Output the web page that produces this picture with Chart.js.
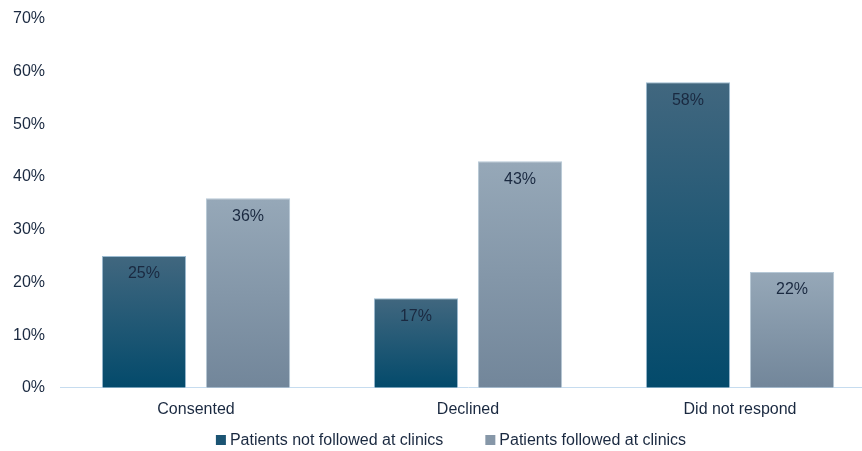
<!DOCTYPE html>
<html>
<head>
<meta charset="utf-8">
<script src="https://cdn.jsdelivr.net/npm/chart.js@4/dist/chart.umd.min.js"></script>
<style>
  html, body { margin: 0; padding: 0; overflow: hidden; background: #fff; }
  #wrap { width: 902px; height: 451px; }
</style>
</head>
<body>
<div id="wrap"><canvas id="chart" width="902" height="451"></canvas></div>
<script>
// Data
const categories = ['Consented', 'Declined', 'Did not respond'];
const notFollowed = [25, 17, 58];
const followed = [36, 43, 22];
const seriesNames = ['Patients not followed at clinics', 'Patients followed at clinics'];

const FONT = 'Liberation Sans, Arial, sans-serif';
const TEXT = '#1a2940';
const legendColors = ['#1b5473', '#8697a8'];

// each bar gets its own top-to-bottom gradient
function barGradient(ctx, top, bottom) {
    const chart = ctx.chart;
    const area = chart.chartArea;
    if (!area || ctx.raw == null) return bottom;
    const yTop = chart.scales.y.getPixelForValue(ctx.raw);
    const g = chart.ctx.createLinearGradient(0, yTop, 0, area.bottom);
    g.addColorStop(0, top);
    g.addColorStop(1, bottom);
    return g;
}

// value labels inside top of each bar + custom legend
const extras = {
    id: 'extras',
    afterDatasetsDraw(chart) {
        const c = chart.ctx;
        c.save();
        c.font = '16px ' + FONT;
        c.fillStyle = TEXT;
        c.textAlign = 'center';
        c.textBaseline = 'middle';
        chart.data.datasets.forEach((ds, i) => {
            chart.getDatasetMeta(i).data.forEach((bar, j) => {
                c.fillText(ds.data[j] + '%', bar.x, bar.y + 18);
            });
        });

        // legend
        const box = 10, gap = 4, between = 42, y = 440;
        const widths = seriesNames.map(n => box + gap + c.measureText(n).width);
        const total = widths[0] + between + widths[1];
        let x = chart.width / 2 - total / 2;
        c.textAlign = 'left';
        seriesNames.forEach((n, i) => {
            c.fillStyle = legendColors[i];
            c.fillRect(x, y - box / 2, box, box);
            c.fillStyle = TEXT;
            c.fillText(n, x + box + gap, y + 1);
            x += widths[i] + between;
        });
        c.restore();
    }
};

new Chart(document.getElementById('chart'), {
    type: 'bar',
    data: {
        labels: categories,
        datasets: [
            {
                label: seriesNames[0],
                data: notFollowed,
                backgroundColor: ctx => barGradient(ctx, '#41677f', '#034a6b'),
                borderColor: '#9dbcd2',
                borderWidth: 1,
                borderSkipped: 'bottom',
                categoryPercentage: 0.765,
                barPercentage: 0.81
            },
            {
                label: seriesNames[1],
                data: followed,
                backgroundColor: ctx => barGradient(ctx, '#96a8b8', '#72869a'),
                borderColor: '#b6c8d6',
                borderWidth: 1,
                borderSkipped: 'bottom',
                categoryPercentage: 0.765,
                barPercentage: 0.81
            }
        ]
    },
    options: {
        responsive: false,
        animation: false,
        layout: { padding: { top: 19, right: 26, left: 0, bottom: 20 } },
        scales: {
            x: {
                grid: { display: false, drawTicks: false },
                border: { display: true, color: '#c6dcef', width: 1 },
                ticks: { color: TEXT, font: { family: FONT, size: 16 }, padding: 12 }
            },
            y: {
                min: 0,
                max: 70,
                grid: { display: false, drawTicks: false },
                border: { display: false },
                ticks: {
                    stepSize: 10,
                    color: TEXT,
                    font: { family: FONT, size: 16 },
                    padding: 15,
                    callback: v => v + '%'
                },
                afterFit: scale => {
                    scale.width = 60;
                    scale.paddingTop = 0;
                }
            }
        },
        plugins: {
            legend: { display: false },
            tooltip: { enabled: false }
        }
    },
    plugins: [extras]
});
</script>
</body>
</html>
